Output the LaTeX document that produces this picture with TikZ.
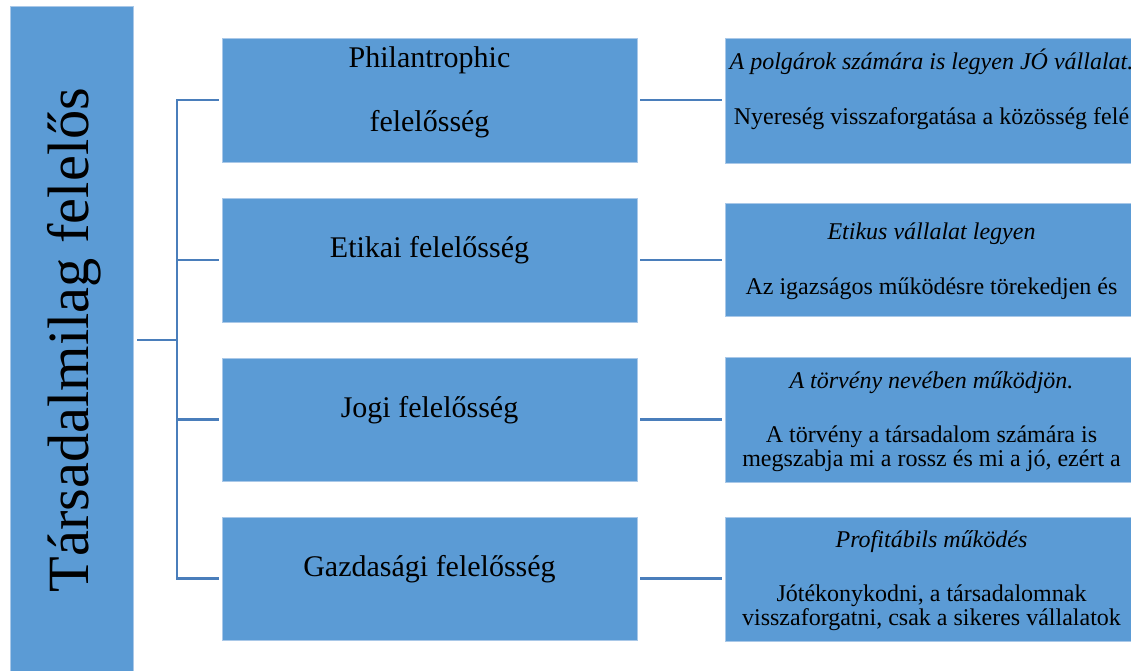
\documentclass[tikz,border=0pt]{standalone}
\usepackage{fontspec}
\setmainfont{Liberation Serif}
\definecolor{boxblue}{HTML}{5B9BD5}
\definecolor{linkblue}{HTML}{4A7EBB}
\definecolor{edgeblue}{HTML}{A9C8E8}
\begin{document}
\begin{tikzpicture}[x=1pt,y=-1pt,
  box/.style={draw=edgeblue, line width=0.8pt, fill=boxblue, inner sep=0pt, outer sep=0pt, anchor=north west},
  link/.style={draw=linkblue, line width=2.2pt},
  midtxt/.style={anchor=base, inner sep=0pt, font=\fontsize{30}{36}\selectfont},
  righttxt/.style={anchor=base, inner sep=0pt, font=\fontsize{24}{24}\selectfont},
  ]
\useasboundingbox (0,0) rectangle (1131,670);
\clip (0,0) rectangle (1131,670);

% root column
\node[box, minimum width=123pt, minimum height=690pt] (root) at (10,6) {};
\node[anchor=base, rotate=90, inner sep=0pt, font=\fontsize{58.4}{60}\selectfont] (title) at (88,340) {Társadalmilag felelős};

% middle column
\node[box, minimum width=415pt, minimum height=124pt] (m1) at (222,38) {};
\node[box, minimum width=415pt, minimum height=124pt] (m2) at (222,198) {};
\node[box, minimum width=415pt, minimum height=123pt] (m3) at (222,358) {};
\node[box, minimum width=415pt, minimum height=123pt] (m4) at (222,517) {};

\node[midtxt] (m1a) at (429.5,67) {Philantrophic};
\node[midtxt] (m1b) at (429.5,131) {felelősség};
\node[midtxt] (m2a) at (429.5,257) {Etikai felelősség};
\node[midtxt] (m3a) at (429.5,417) {Jogi felelősség};
\node[midtxt] (m4a) at (429.5,576) {Gazdasági felelősség};

% right column
\node[box, minimum width=415pt, minimum height=125pt] (r1) at (725,38) {};
\node[box, minimum width=415pt, minimum height=113pt] (r2) at (725,203) {};
\node[box, minimum width=415pt, minimum height=125pt] (r3) at (725,357) {};
\node[box, minimum width=415pt, minimum height=124pt] (r4) at (725,517) {};

\node[righttxt] (r1a) at (931.5,69) {\itshape A polgárok számára is legyen JÓ vállalat.};
\node[righttxt] (r1b) at (931.5,124) {Nyereség visszaforgatása a közösség felé};
\node[righttxt] (r2a) at (931.5,239) {\itshape Etikus vállalat legyen};
\node[righttxt] (r2b) at (931.5,294) {Az igazságos működésre törekedjen és};
\node[righttxt] (r3a) at (931.5,388) {\itshape A törvény nevében működjön.};
\node[righttxt] (r3b) at (931.5,442) {A törvény a társadalom számára is};
\node[righttxt] (r3c) at (931.5,466) {megszabja mi a rossz és mi a jó, ezért a};
\node[righttxt] (r4a) at (931.5,547) {\itshape Profitábils működés};
\node[righttxt] (r4b) at (931.5,601) {Jótékonykodni, a társadalomnak};
\node[righttxt] (r4c) at (931.5,625) {visszaforgatni, csak a sikeres vállalatok};

% connectors
\coordinate (hub) at (177,340);
\draw[link, shorten <=4pt] (root.east |- hub) -- (hub);
\draw[link, line cap=rect] (hub |- m1.west) -- (hub |- m4.west);
\foreach \i in {1,...,4}{
  \draw[link, shorten >=3pt] (hub |- m\i.west) -- (m\i.west);
  \draw[link, shorten <=3pt, shorten >=3pt] (m\i.east) -- (r\i.west |- m\i.east);
}
\end{tikzpicture}
\end{document}
